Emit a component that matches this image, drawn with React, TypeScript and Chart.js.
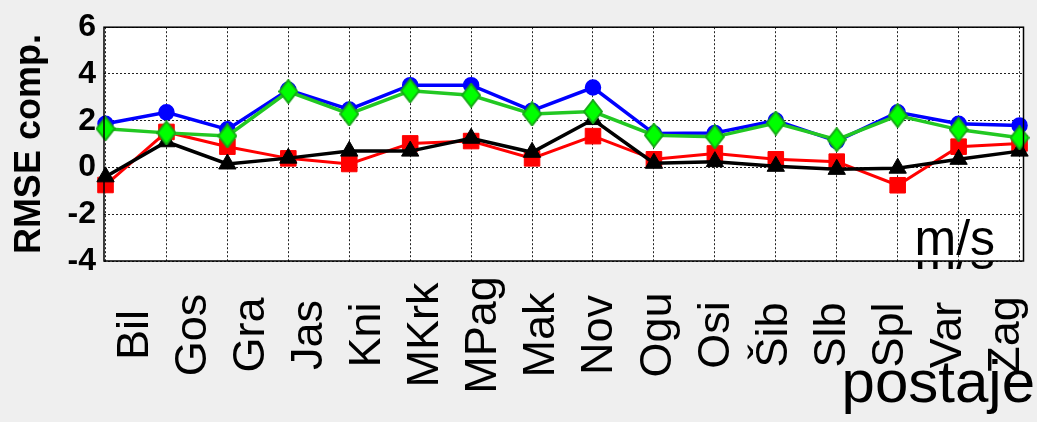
import React, { useEffect, useRef } from "react";
import { Chart, registerables } from "chart.js";

Chart.register(...registerables);

const FONT = "'Liberation Sans', Arial, Helvetica, sans-serif";

const stations = ["Bil", "Gos", "Gra", "Jas", "Kni", "MKrk", "MPag", "Mak", "Nov", "Ogu", "Osi", "Šib", "Slb", "Spl", "Var", "Zag"];
const blueSeries = [1.87, 2.36, 1.63, 3.32, 2.48, 3.52, 3.52, 2.43, 3.42, 1.45, 1.48, 2.01, 1.13, 2.36, 1.87, 1.8];
const greenSeries = [1.66, 1.48, 1.35, 3.25, 2.29, 3.28, 3.09, 2.29, 2.39, 1.38, 1.31, 1.9, 1.19, 2.22, 1.62, 1.27];
const redSeries = [-0.75, 1.52, 0.89, 0.39, 0.15, 1.03, 1.13, 0.39, 1.34, 0.35, 0.6, 0.35, 0.25, -0.76, 0.89, 1.03];
const blackSeries = [-0.4, 1.1, 0.15, 0.4, 0.7, 0.7, 1.25, 0.65, 2.05, 0.18, 0.25, 0.05, -0.08, -0.03, 0.35, 0.7];
const yTicks = [-4, -2, 0, 2, 4, 6];
const yTitle = "RMSE comp.";
const xTitle = "postaje";
const unitLabel = "m/s";

const toPoints = (arr: number[]) => arr.map((v, i) => ({ x: i + 1, y: v }));

function makeDiamond(): HTMLCanvasElement {
  const c = document.createElement("canvas");
  const w = 20;
  const h = 25;
  c.width = w;
  c.height = h;
  const g = c.getContext("2d")!;
  g.beginPath();
  g.moveTo(w / 2, 1);
  g.lineTo(w - 1, h / 2);
  g.lineTo(w / 2, h - 1);
  g.lineTo(1, h / 2);
  g.closePath();
  g.fillStyle = "#00ff00";
  g.fill();
  g.lineWidth = 2;
  g.strokeStyle = "#16a816";
  g.stroke();
  return c;
}

const decoPlugin = {
  id: "deco",
  beforeDraw(chart: any) {
    const { ctx, chartArea: a } = chart;
    ctx.save();
    ctx.font = `50px ${FONT}`;
    ctx.fillStyle = "#000";
    ctx.textAlign = "left";
    ctx.textBaseline = "alphabetic";
    ctx.fillText(unitLabel, a.right - 109, a.bottom + 8);
    ctx.fillStyle = "#ffffff";
    ctx.fillRect(a.left, a.top, a.right - a.left, a.bottom - a.top);
    ctx.restore();
  },
  afterDraw(chart: any) {
    const { ctx, chartArea: a } = chart;
    ctx.save();
    ctx.strokeStyle = "#000";
    ctx.lineWidth = 1.5;
    ctx.setLineDash([]);
    ctx.strokeRect(a.left, a.top, a.right - a.left, a.bottom - a.top);

    ctx.fillStyle = "#000";
    ctx.font = `50px ${FONT}`;
    ctx.textAlign = "left";
    ctx.textBaseline = "alphabetic";
    ctx.fillText(unitLabel, a.right - 109, a.bottom - 6);

    const xl = chart.scales.xl;
    ctx.font = `45px ${FONT}`;
    ctx.textAlign = "center";
    ctx.textBaseline = "middle";
    stations.forEach((s, i) => {
      const x = xl.getPixelForValue(i + 1);
      ctx.save();
      ctx.translate(x, a.bottom + 74);
      ctx.rotate(-Math.PI / 2);
      ctx.fillText(s, 0, 0);
      ctx.restore();
    });

    ctx.font = `60px ${FONT}`;
    ctx.textAlign = "right";
    ctx.textBaseline = "alphabetic";
    ctx.fillText(xTitle, chart.width - 2, a.bottom + 141);
    ctx.restore();
  },
};

export default function App() {
  const ref = useRef<HTMLCanvasElement | null>(null);

  useEffect(() => {
    document.body.style.margin = "0";
    const canvas = ref.current;
    if (!canvas) return;
    const diamond = makeDiamond();
    const chart = new Chart(canvas, {
      type: "line",
      data: {
        datasets: [
          {
            label: "blue",
            data: toPoints(blueSeries),
            borderColor: "#0000ff",
            backgroundColor: "#0000ff",
            borderWidth: 3.5,
            pointStyle: "circle",
            pointRadius: 7.5,
            pointBorderWidth: 1.5,
            pointBorderColor: "#0000ff",
            pointBackgroundColor: "#0000ff",
            order: 4,
            clip: false,
          },
          {
            label: "red",
            data: toPoints(redSeries),
            borderColor: "#ff0000",
            backgroundColor: "#ff0000",
            borderWidth: 3,
            pointStyle: "rect",
            pointRadius: 11,
            pointBorderWidth: 1,
            pointBorderColor: "#ff0000",
            pointBackgroundColor: "#ff0000",
            order: 3,
            clip: false,
          },
          {
            label: "black",
            data: toPoints(blackSeries),
            borderColor: "#000000",
            backgroundColor: "#000000",
            borderWidth: 3.5,
            pointStyle: "triangle",
            pointRadius: 10,
            pointBorderWidth: 1,
            pointBorderColor: "#000000",
            pointBackgroundColor: "#000000",
            order: 2,
            clip: false,
          },
          {
            label: "green",
            data: toPoints(greenSeries),
            borderColor: "#22c822",
            backgroundColor: "#00ff00",
            borderWidth: 3.5,
            pointStyle: diamond,
            pointRadius: 10,
            order: 1,
            clip: false,
          },
        ],
      },
      options: {
        responsive: false,
        animation: false,
        events: [],
        layout: { padding: { left: 0, top: 24, right: 10, bottom: 161 } },
        plugins: { legend: { display: false }, tooltip: { enabled: false } },
        scales: {
          x: {
            type: "linear",
            min: 0.975,
            max: 16.065,
            afterBuildTicks: (s: any) => {
              s.ticks = stations.map((_, i) => ({ value: i + 1 }));
            },
            ticks: { display: false },
            grid: { color: "#222", lineWidth: 1, drawTicks: false },
            border: { display: false, dash: [2, 2] },
          },
          xl: {
            type: "linear",
            display: false,
            position: "bottom",
            min: 0.46,
            max: 16.29,
          },
          y: {
            min: -4,
            max: 6,
            afterBuildTicks: (s: any) => {
              s.ticks = yTicks.map((v) => ({ value: v }));
            },
            afterFit: (s: any) => {
              s.width = 104;
            },
            ticks: {
              color: "#000",
              padding: 8,
              font: { family: FONT, size: 32, weight: "bold" },
            },
            grid: { color: "#222", lineWidth: 1, drawTicks: false },
            border: { display: false, dash: [2, 2] },
            title: {
              display: true,
              text: yTitle,
              color: "#000",
              font: { family: FONT, size: 36, weight: "bold" },
              padding: { top: 8, bottom: 0 },
            },
          },
        },
      },
      plugins: [decoPlugin],
    } as any);
    return () => chart.destroy();
  }, []);

  return (
    <div style={{ width: 1037, height: 422, background: "#efefef", position: "relative" }}>
      <canvas ref={ref} width={1037} height={422} style={{ display: "block", width: 1037, height: 422 }} />
    </div>
  );
}
